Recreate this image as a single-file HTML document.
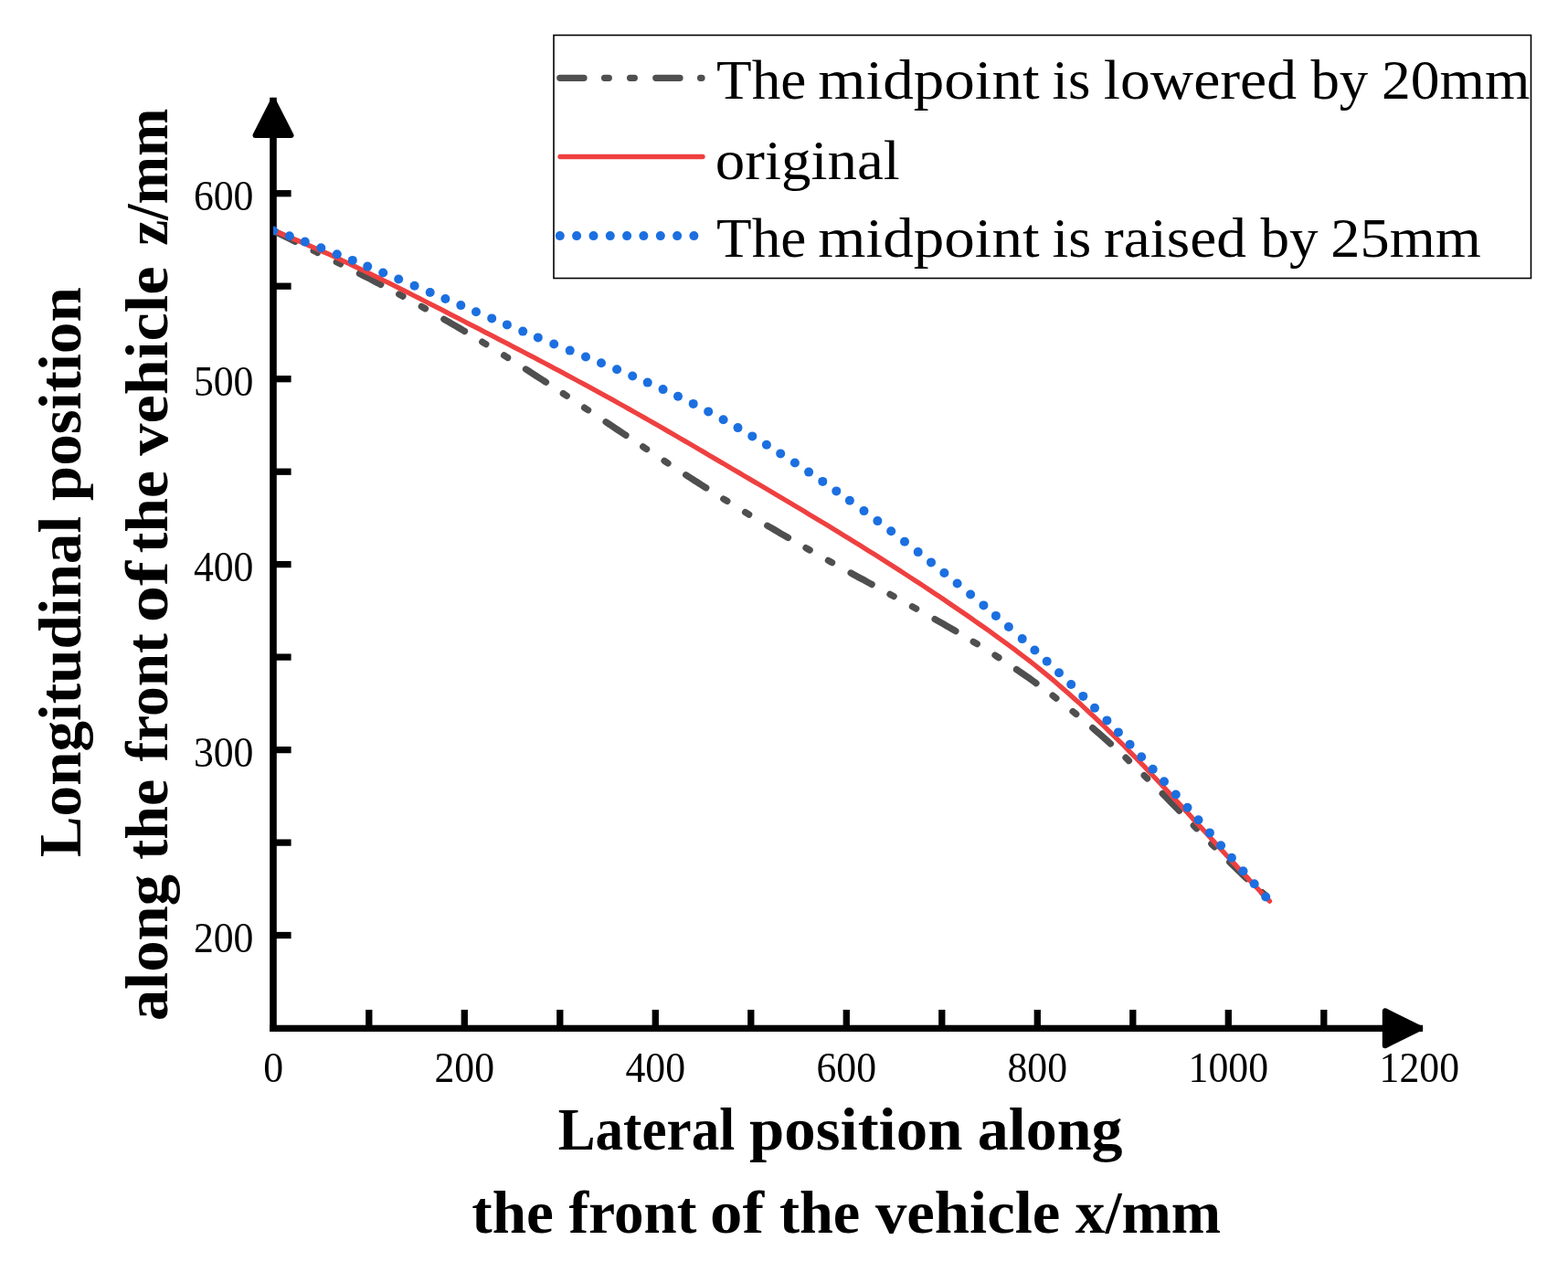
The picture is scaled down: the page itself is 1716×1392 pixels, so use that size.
<!DOCTYPE html>
<html><head><meta charset="utf-8"><style>
html,body{margin:0;padding:0;background:#fff;}
svg{display:block;}
.t{font-family:"Liberation Serif",serif;}
</style></head><body>
<svg width="1716" height="1392" viewBox="0 0 1716 1392">
<rect width="1716" height="1392" fill="#fff"/>
<!-- axes -->
<g stroke="#000" stroke-width="7.3" fill="none">
<line x1="299" y1="106.8" x2="299" y2="1129.1" stroke-width="7.6"/>
<line x1="295.2" y1="1125.3" x2="1557.1" y2="1125.3"/>
<line x1="299" y1="1023.5" x2="318.6" y2="1023.5"/><line x1="299" y1="922.1" x2="318.6" y2="922.1"/><line x1="299" y1="820.6" x2="318.6" y2="820.6"/><line x1="299" y1="719.1" x2="318.6" y2="719.1"/><line x1="299" y1="617.6" x2="318.6" y2="617.6"/><line x1="299" y1="516.2" x2="318.6" y2="516.2"/><line x1="299" y1="414.7" x2="318.6" y2="414.7"/><line x1="299" y1="313.2" x2="318.6" y2="313.2"/><line x1="299" y1="211.7" x2="318.6" y2="211.7"/><line x1="403.8" y1="1125.3" x2="403.8" y2="1105"/><line x1="508.3" y1="1125.3" x2="508.3" y2="1105"/><line x1="612.8" y1="1125.3" x2="612.8" y2="1105"/><line x1="717.3" y1="1125.3" x2="717.3" y2="1105"/><line x1="821.8" y1="1125.3" x2="821.8" y2="1105"/><line x1="926.3" y1="1125.3" x2="926.3" y2="1105"/><line x1="1030.8" y1="1125.3" x2="1030.8" y2="1105"/><line x1="1135.3" y1="1125.3" x2="1135.3" y2="1105"/><line x1="1239.8" y1="1125.3" x2="1239.8" y2="1105"/><line x1="1344.3" y1="1125.3" x2="1344.3" y2="1105"/><line x1="1448.8" y1="1125.3" x2="1448.8" y2="1105"/>
</g>
<path d="M299,109.8 L318.5,148 L279.5,148 Z" fill="#000" stroke="#000" stroke-width="6" stroke-linejoin="round"/>
<path d="M1554.1,1125.3 L1515.8,1106.3 L1515.8,1144.2 Z" fill="#000" stroke="#000" stroke-width="6" stroke-linejoin="round"/>
<defs><clipPath id="pc"><rect x="299" y="0" width="1400" height="1125"/></clipPath></defs>
<g clip-path="url(#pc)">
<path d="M299.5,252.6 L303.1,254.4 L306.8,256.2 L310.4,258.0 L314.0,259.8 L317.6,261.6 L321.3,263.4 L324.9,265.2 L328.5,267.0 L332.1,268.8 L335.8,270.6 L339.4,272.4 L343.0,274.2 L346.7,276.0 L350.3,277.8 L353.9,279.5 L357.5,281.3 L361.2,283.1 L364.8,285.0 L368.4,286.8 L372.0,288.6 L375.7,290.4 L379.3,292.2 L382.9,294.0 L386.6,295.9 L390.2,297.7 L393.8,299.6 L397.4,301.4 L401.1,303.3 L404.7,305.1 L408.3,307.0 L411.9,308.9 L415.6,310.8 L419.2,312.7 L422.8,314.6 L426.4,316.5 L430.1,318.4 L433.7,320.3 L437.3,322.3 L441.0,324.2 L444.6,326.2 L448.2,328.2 L451.8,330.2 L455.5,332.2 L459.1,334.2 L462.7,336.2 L466.3,338.2 L470.0,340.2 L473.6,342.3 L477.2,344.3 L480.9,346.4 L484.5,348.5 L488.1,350.6 L491.7,352.7 L495.4,354.8 L499.0,356.9 L502.6,359.0 L506.2,361.2 L509.9,363.3 L513.5,365.5 L517.1,367.7 L520.8,369.9 L524.4,372.1 L528.0,374.3 L531.6,376.5 L535.3,378.7 L538.9,381.0 L542.5,383.2 L546.1,385.5 L549.8,387.7 L553.4,390.0 L557.0,392.3 L560.7,394.6 L564.3,396.9 L567.9,399.2 L571.5,401.5 L575.2,403.8 L578.8,406.1 L582.4,408.5 L586.0,410.8 L589.7,413.2 L593.3,415.5 L596.9,417.9 L600.5,420.3 L604.2,422.6 L607.8,425.0 L611.4,427.4 L615.1,429.8 L618.7,432.2 L622.3,434.6 L625.9,437.0 L629.6,439.4 L633.2,441.8 L636.8,444.2 L640.4,446.7 L644.1,449.1 L647.7,451.5 L651.3,453.9 L655.0,456.3 L658.6,458.8 L662.2,461.2 L665.8,463.6 L669.5,466.0 L673.1,468.5 L676.7,470.9 L680.3,473.3 L684.0,475.7 L687.6,478.2 L691.2,480.6 L694.9,483.0 L698.5,485.4 L702.1,487.8 L705.7,490.2 L709.4,492.7 L713.0,495.1 L716.6,497.5 L720.2,499.9 L723.9,502.2 L727.5,504.6 L731.1,507.0 L734.8,509.4 L738.4,511.8 L742.0,514.1 L745.6,516.5 L749.3,518.8 L752.9,521.2 L756.5,523.5 L760.1,525.9 L763.8,528.2 L767.4,530.5 L771.0,532.8 L774.6,535.1 L778.3,537.4 L781.9,539.7 L785.5,542.0 L789.2,544.3 L792.8,546.6 L796.4,548.8 L800.0,551.1 L803.7,553.3 L807.3,555.5 L810.9,557.8 L814.5,560.0 L818.2,562.2 L821.8,564.4 L825.4,566.6 L829.1,568.8 L832.7,570.9 L836.3,573.1 L839.9,575.3 L843.6,577.4 L847.2,579.5 L850.8,581.7 L854.4,583.8 L858.1,585.9 L861.7,588.0 L865.3,590.1 L869.0,592.2 L872.6,594.3 L876.2,596.4 L879.8,598.4 L883.5,600.5 L887.1,602.5 L890.7,604.6 L894.3,606.6 L898.0,608.7 L901.6,610.7 L905.2,612.7 L908.9,614.7 L912.5,616.7 L916.1,618.7 L919.7,620.7 L923.4,622.7 L927.0,624.7 L930.6,626.7 L934.2,628.7 L937.9,630.7 L941.5,632.7 L945.1,634.6 L948.7,636.6 L952.4,638.6 L956.0,640.6 L959.6,642.5 L963.3,644.5 L966.9,646.5 L970.5,648.5 L974.1,650.4 L977.8,652.4 L981.4,654.4 L985.0,656.4 L988.6,658.4 L992.3,660.4 L995.9,662.4 L999.5,664.4 L1003.2,666.4 L1006.8,668.4 L1010.4,670.4 L1014.0,672.4 L1017.7,674.5 L1021.3,676.5 L1024.9,678.6 L1028.5,680.6 L1032.2,682.7 L1035.8,684.8 L1039.4,686.9 L1043.1,689.0 L1046.7,691.1 L1050.3,693.3 L1053.9,695.4 L1057.6,697.6 L1061.2,699.8 L1064.8,702.0 L1068.4,704.2 L1072.1,706.4 L1075.7,708.7 L1079.3,710.9 L1083.0,713.2 L1086.6,715.5 L1090.2,717.8 L1093.8,720.2 L1097.5,722.6 L1101.1,725.0 L1104.7,727.4 L1108.3,729.8 L1112.0,732.3 L1115.6,734.7 L1119.2,737.3 L1122.8,739.8 L1126.5,742.3 L1130.1,744.9 L1133.7,747.5 L1137.4,750.2 L1141.0,752.8 L1144.6,755.5 L1148.2,758.3 L1151.9,761.0 L1155.5,763.8 L1159.1,766.6 L1162.7,769.4 L1166.4,772.3 L1170.0,775.2 L1173.6,778.1 L1177.3,781.1 L1180.9,784.1 L1184.5,787.1 L1188.1,790.1 L1191.8,793.2 L1195.4,796.3 L1199.0,799.4 L1202.6,802.6 L1206.3,805.8 L1209.9,809.0 L1213.5,812.3 L1217.2,815.5 L1220.8,818.8 L1224.4,822.2 L1228.0,825.6 L1231.7,828.9 L1235.3,832.4 L1238.9,835.8 L1242.5,839.3 L1246.2,842.8 L1249.8,846.3 L1253.4,849.8 L1257.1,853.4 L1260.7,857.0 L1264.3,860.6 L1267.9,864.2 L1271.6,867.9 L1275.2,871.5 L1278.8,875.2 L1282.4,878.9 L1286.1,882.6 L1289.7,886.3 L1293.3,890.0 L1296.9,893.7 L1300.6,897.5 L1304.2,901.2 L1307.8,904.9 L1311.5,908.7 L1315.1,912.4 L1318.7,916.1 L1322.3,919.8 L1326.0,923.6 L1329.6,927.2 L1333.2,930.9 L1336.8,934.6 L1340.5,938.2 L1344.1,941.8 L1347.7,945.4 L1351.4,949.0 L1355.0,952.5 L1358.6,956.0 L1362.2,959.4 L1365.9,962.8 L1369.5,966.1 L1373.1,969.4 L1376.7,972.6 L1380.4,975.8 L1384.0,978.9" fill="none" stroke="#4f4f4f" stroke-width="7.3" stroke-linecap="round" stroke-dasharray="26.2 22.6 4.7 23.3 4.7 23.5"/>
<path d="M299.5,252.6 L305.0,254.8 L310.5,257.0 L315.9,259.2 L321.4,261.5 L326.9,263.8 L332.4,266.1 L337.8,268.5 L343.3,270.9 L348.8,273.3 L354.3,275.7 L359.8,278.2 L365.2,280.7 L370.7,283.2 L376.2,285.8 L381.7,288.4 L387.1,291.0 L392.6,293.6 L398.1,296.2 L403.6,298.9 L409.0,301.6 L414.5,304.2 L420.0,307.0 L425.5,309.7 L431.0,312.4 L436.4,315.2 L441.9,317.9 L447.4,320.7 L452.9,323.5 L458.3,326.2 L463.8,329.0 L469.3,331.8 L474.8,334.6 L480.3,337.4 L485.7,340.2 L491.2,343.1 L496.7,345.9 L502.2,348.7 L507.6,351.5 L513.1,354.3 L518.6,357.1 L524.1,359.9 L529.6,362.8 L535.0,365.6 L540.5,368.4 L546.0,371.3 L551.5,374.1 L556.9,376.9 L562.4,379.8 L567.9,382.6 L573.4,385.5 L578.8,388.4 L584.3,391.2 L589.8,394.1 L595.3,397.0 L600.8,399.9 L606.2,402.8 L611.7,405.7 L617.2,408.6 L622.7,411.6 L628.1,414.5 L633.6,417.5 L639.1,420.4 L644.6,423.4 L650.1,426.4 L655.5,429.4 L661.0,432.4 L666.5,435.4 L672.0,438.4 L677.4,441.5 L682.9,444.5 L688.4,447.6 L693.9,450.7 L699.3,453.8 L704.8,456.9 L710.3,460.0 L715.8,463.1 L721.3,466.3 L726.7,469.4 L732.2,472.6 L737.7,475.8 L743.2,479.0 L748.6,482.1 L754.1,485.3 L759.6,488.5 L765.1,491.7 L770.6,494.9 L776.0,498.2 L781.5,501.4 L787.0,504.6 L792.5,507.8 L797.9,511.0 L803.4,514.2 L808.9,517.4 L814.4,520.7 L819.9,523.9 L825.3,527.1 L830.8,530.3 L836.3,533.6 L841.8,536.8 L847.2,540.0 L852.7,543.3 L858.2,546.5 L863.7,549.8 L869.1,553.1 L874.6,556.3 L880.1,559.6 L885.6,562.9 L891.1,566.2 L896.5,569.5 L902.0,572.8 L907.5,576.1 L913.0,579.5 L918.4,582.8 L923.9,586.2 L929.4,589.6 L934.9,592.9 L940.4,596.3 L945.8,599.7 L951.3,603.2 L956.8,606.6 L962.3,610.1 L967.7,613.5 L973.2,617.0 L978.7,620.5 L984.2,624.0 L989.7,627.6 L995.1,631.1 L1000.6,634.7 L1006.1,638.3 L1011.6,641.9 L1017.0,645.5 L1022.5,649.2 L1028.0,652.8 L1033.5,656.5 L1038.9,660.2 L1044.4,664.0 L1049.9,667.7 L1055.4,671.5 L1060.9,675.3 L1066.3,679.1 L1071.8,683.0 L1077.3,686.8 L1082.8,690.7 L1088.2,694.7 L1093.7,698.6 L1099.2,702.6 L1104.7,706.6 L1110.2,710.7 L1115.6,714.8 L1121.1,719.0 L1126.6,723.2 L1132.1,727.5 L1137.5,731.9 L1143.0,736.4 L1148.5,740.9 L1154.0,745.5 L1159.4,750.2 L1164.9,755.0 L1170.4,759.8 L1175.9,764.7 L1181.4,769.6 L1186.8,774.6 L1192.3,779.7 L1197.8,784.8 L1203.3,790.0 L1208.7,795.2 L1214.2,800.5 L1219.7,805.9 L1225.2,811.3 L1230.7,816.7 L1236.1,822.3 L1241.6,827.8 L1247.1,833.5 L1252.6,839.2 L1258.0,844.9 L1263.5,850.7 L1269.0,856.5 L1274.5,862.3 L1280.0,868.2 L1285.4,874.1 L1290.9,880.0 L1296.4,886.0 L1301.9,891.9 L1307.3,897.9 L1312.8,903.9 L1318.3,909.8 L1323.8,915.8 L1329.2,921.8 L1334.7,927.8 L1340.2,933.7 L1345.7,939.7 L1351.2,945.6 L1356.6,951.5 L1362.1,957.3 L1367.6,963.2 L1373.1,969.0 L1378.5,974.8 L1384.0,980.5 L1389.5,986.2" fill="none" stroke="#ef4040" stroke-width="5.3" stroke-linecap="round" stroke-linejoin="round"/>
<g fill="#1b6fe0"><circle cx="299.2" cy="252.5" r="5"/><circle cx="316.8" cy="258.3" r="5"/><circle cx="333.8" cy="264.6" r="5"/><circle cx="351.3" cy="271.3" r="5"/><circle cx="368.8" cy="278.2" r="5"/><circle cx="385.8" cy="284.9" r="5"/><circle cx="402.2" cy="291.6" r="5"/><circle cx="419.2" cy="298.5" r="5"/><circle cx="436.2" cy="305.5" r="5"/><circle cx="453.6" cy="312.8" r="5"/><circle cx="470.7" cy="320.0" r="5"/><circle cx="487.4" cy="327.0" r="5"/><circle cx="504.3" cy="334.1" r="5"/><circle cx="521.0" cy="341.2" r="5"/><circle cx="538.2" cy="348.4" r="5"/><circle cx="554.9" cy="355.4" r="5"/><circle cx="572.2" cy="362.6" r="5"/><circle cx="588.8" cy="369.4" r="5"/><circle cx="606.2" cy="376.5" r="5"/><circle cx="623.7" cy="383.6" r="5"/><circle cx="641.0" cy="390.5" r="5"/><circle cx="658.0" cy="397.3" r="5"/><circle cx="675.1" cy="404.3" r="5"/><circle cx="692.2" cy="411.5" r="5"/><circle cx="708.7" cy="418.6" r="5"/><circle cx="725.6" cy="426.1" r="5"/><circle cx="742.0" cy="433.7" r="5"/><circle cx="758.7" cy="441.9" r="5"/><circle cx="775.2" cy="450.4" r="5"/><circle cx="791.6" cy="459.2" r="5"/><circle cx="807.5" cy="468.1" r="5"/><circle cx="823.3" cy="477.4" r="5"/><circle cx="838.9" cy="486.8" r="5"/><circle cx="854.2" cy="496.4" r="5"/><circle cx="869.9" cy="506.5" r="5"/><circle cx="885.1" cy="516.6" r="5"/><circle cx="900.3" cy="526.9" r="5"/><circle cx="915.3" cy="537.4" r="5"/><circle cx="929.9" cy="547.8" r="5"/><circle cx="945.5" cy="559.1" r="5"/><circle cx="960.4" cy="570.1" r="5"/><circle cx="975.2" cy="581.3" r="5"/><circle cx="990.0" cy="592.7" r="5"/><circle cx="1004.7" cy="604.1" r="5"/><circle cx="1019.0" cy="615.4" r="5"/><circle cx="1033.4" cy="627.0" r="5"/><circle cx="1047.6" cy="638.5" r="5"/><circle cx="1062.1" cy="650.5" r="5"/><circle cx="1076.4" cy="662.4" r="5"/><circle cx="1089.9" cy="673.9" r="5"/><circle cx="1103.9" cy="686.0" r="5"/><circle cx="1118.7" cy="699.1" r="5"/><circle cx="1132.4" cy="711.5" r="5"/><circle cx="1145.7" cy="723.8" r="5"/><circle cx="1159.0" cy="736.3" r="5"/><circle cx="1172.2" cy="749.0" r="5"/><circle cx="1185.3" cy="761.9" r="5"/><circle cx="1198.0" cy="774.7" r="5"/><circle cx="1211.4" cy="788.4" r="5"/><circle cx="1223.9" cy="801.4" r="5"/><circle cx="1236.6" cy="814.8" r="5"/><circle cx="1249.2" cy="828.3" r="5"/><circle cx="1261.7" cy="841.8" r="5"/><circle cx="1274.0" cy="855.3" r="5"/><circle cx="1286.8" cy="869.5" r="5"/><circle cx="1299.5" cy="883.8" r="5"/><circle cx="1311.5" cy="897.3" r="5"/><circle cx="1323.9" cy="911.4" r="5"/><circle cx="1336.1" cy="925.3" r="5"/><circle cx="1347.9" cy="938.8" r="5"/><circle cx="1360.5" cy="953.3" r="5"/><circle cx="1372.7" cy="967.2" r="5"/><circle cx="1385.2" cy="981.5" r="5"/></g></g>
<g class="t" font-size="47" fill="#000"><text x="277.5" y="1041.8" text-anchor="end" textLength="65.6" lengthAdjust="spacingAndGlyphs">200</text><text x="277.5" y="838.8" text-anchor="end" textLength="65.6" lengthAdjust="spacingAndGlyphs">300</text><text x="277.5" y="635.9" text-anchor="end" textLength="65.6" lengthAdjust="spacingAndGlyphs">400</text><text x="277.5" y="432.9" text-anchor="end" textLength="65.6" lengthAdjust="spacingAndGlyphs">500</text><text x="277.5" y="229.9" text-anchor="end" textLength="65.6" lengthAdjust="spacingAndGlyphs">600</text><text x="299.3" y="1184" text-anchor="middle" textLength="21.9" lengthAdjust="spacingAndGlyphs">0</text><text x="508.3" y="1184" text-anchor="middle" textLength="65.6" lengthAdjust="spacingAndGlyphs">200</text><text x="717.3" y="1184" text-anchor="middle" textLength="65.6" lengthAdjust="spacingAndGlyphs">400</text><text x="926.3" y="1184" text-anchor="middle" textLength="65.6" lengthAdjust="spacingAndGlyphs">600</text><text x="1135.3" y="1184" text-anchor="middle" textLength="65.6" lengthAdjust="spacingAndGlyphs">800</text><text x="1344.3" y="1184" text-anchor="middle" textLength="87.4" lengthAdjust="spacingAndGlyphs">1000</text><text x="1553.3" y="1184" text-anchor="middle" textLength="87.4" lengthAdjust="spacingAndGlyphs">1200</text></g>
<!-- legend -->
<rect x="606" y="38.5" width="1069.5" height="266" fill="none" stroke="#000" stroke-width="1.6"/>
<line x1="612.8" y1="85.3" x2="768" y2="85.3" stroke="#4f4f4f" stroke-width="7.3" stroke-linecap="round" stroke-dasharray="26.2 22.6 4.7 23.3 4.7 23.5"/>
<line x1="613" y1="171.5" x2="769" y2="171.5" stroke="#ef4040" stroke-width="5.3" stroke-linecap="round"/>
<g fill="#1b6fe0"><circle cx="612.8" cy="258.1" r="5"/><circle cx="631.1" cy="258.1" r="5"/><circle cx="649.5" cy="258.1" r="5"/><circle cx="667.8" cy="258.1" r="5"/><circle cx="686.1" cy="258.1" r="5"/><circle cx="704.4" cy="258.1" r="5"/><circle cx="722.8" cy="258.1" r="5"/><circle cx="741.1" cy="258.1" r="5"/><circle cx="759.4" cy="258.1" r="5"/></g>
<g class="t" font-size="62" fill="#000">
<text x="784.09" y="108.3" textLength="98.30" lengthAdjust="spacingAndGlyphs">The</text><text x="895.36" y="108.3" textLength="242.27" lengthAdjust="spacingAndGlyphs">midpoint</text><text x="1151.64" y="108.3" textLength="41.88" lengthAdjust="spacingAndGlyphs">is</text><text x="1207.69" y="108.3" textLength="211.38" lengthAdjust="spacingAndGlyphs">lowered</text><text x="1434.40" y="108.3" textLength="62.86" lengthAdjust="spacingAndGlyphs">by</text><text x="1512.00" y="108.3" textLength="162.30" lengthAdjust="spacingAndGlyphs">20mm</text><text x="782.87" y="195.5" textLength="201.86" lengthAdjust="spacingAndGlyphs">original</text><text x="784.09" y="281" textLength="98.30" lengthAdjust="spacingAndGlyphs">The</text><text x="895.36" y="281" textLength="242.27" lengthAdjust="spacingAndGlyphs">midpoint</text><text x="1151.51" y="281" textLength="42.86" lengthAdjust="spacingAndGlyphs">is</text><text x="1207.99" y="281" textLength="155.94" lengthAdjust="spacingAndGlyphs">raised</text><text x="1379.40" y="281" textLength="63.06" lengthAdjust="spacingAndGlyphs">by</text><text x="1456.36" y="281" textLength="164.55" lengthAdjust="spacingAndGlyphs">25mm</text>
</g>
<!-- axis titles -->
<g class="t" font-size="66" font-weight="bold" fill="#000">
<text x="610.83" y="1257.7" textLength="193.37" lengthAdjust="spacingAndGlyphs">Lateral</text><text x="820.04" y="1257.7" textLength="233.44" lengthAdjust="spacingAndGlyphs">position</text><text x="1069.79" y="1257.7" textLength="158.72" lengthAdjust="spacingAndGlyphs">along</text><text x="516.29" y="1349.4" textLength="89.63" lengthAdjust="spacingAndGlyphs">the</text><text x="622.61" y="1349.4" textLength="139.68" lengthAdjust="spacingAndGlyphs">front</text><text x="777.04" y="1349.4" textLength="58.98" lengthAdjust="spacingAndGlyphs">of</text><text x="852.91" y="1349.4" textLength="88.39" lengthAdjust="spacingAndGlyphs">the</text><text x="957.90" y="1349.4" textLength="202.49" lengthAdjust="spacingAndGlyphs">vehicle</text><text x="1176.84" y="1349.4" textLength="159.19" lengthAdjust="spacingAndGlyphs">x/mm</text><g transform="translate(88.4,1200) rotate(-90)"><text x="261.82" y="0" textLength="373.30" lengthAdjust="spacingAndGlyphs">Longitudinal</text><text x="651.74" y="0" textLength="234.04" lengthAdjust="spacingAndGlyphs">position</text></g><g transform="translate(182.6,1200) rotate(-90)"><text x="82.77" y="0" textLength="160.35" lengthAdjust="spacingAndGlyphs">along</text><text x="259.31" y="0" textLength="87.87" lengthAdjust="spacingAndGlyphs">the</text><text x="366.51" y="0" textLength="140.39" lengthAdjust="spacingAndGlyphs">front</text><text x="518.78" y="0" textLength="67.16" lengthAdjust="spacingAndGlyphs">of</text><text x="594.78" y="0" textLength="90.35" lengthAdjust="spacingAndGlyphs">the</text><text x="701.30" y="0" textLength="207.23" lengthAdjust="spacingAndGlyphs">vehicle</text><text x="931.14" y="0" textLength="150.38" lengthAdjust="spacingAndGlyphs">z/mm</text></g>
</g>
</svg>
</body></html>
